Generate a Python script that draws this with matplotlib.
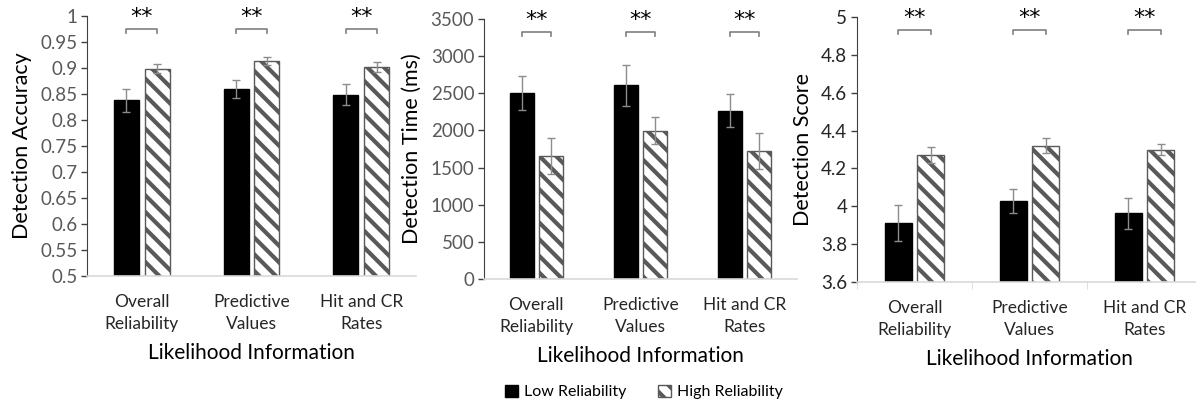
import matplotlib
matplotlib.use("Agg")
import matplotlib.pyplot as plt
from matplotlib.ticker import FuncFormatter, MultipleLocator
from matplotlib.patches import Patch
import numpy as np

plt.rcParams['font.family'] = ['Lato', 'DejaVu Sans']
plt.rcParams['hatch.linewidth'] = 3.0

categories = ["Overall\nReliability", "Predictive\nValues", "Hit and CR\nRates"]
series_names = ["Low Reliability", "High Reliability"]

acc_low = [0.838, 0.859, 0.849]
acc_low_err = [0.022, 0.017, 0.021]
acc_high = [0.899, 0.913, 0.902]
acc_high_err = [0.008, 0.008, 0.009]

time_low = [2505, 2605, 2265]
time_low_err = [225, 270, 220]
time_high = [1655, 1995, 1725]
time_high_err = [245, 180, 240]

score_low = [3.912, 4.028, 3.962]
score_low_err = [0.097, 0.061, 0.084]
score_high = [4.273, 4.321, 4.300]
score_high_err = [0.042, 0.039, 0.029]

sig_labels = ["**", "**", "**"]

panels = [
    dict(low=acc_low, lerr=acc_low_err, high=acc_high, herr=acc_high_err,
         ylabel="Detection Accuracy", ylim=(0.5, 1.0), step=0.05,
         pos=(87/1196, 1-276/404, (416-87)/1196, (276-16)/404), tickcolor='#595959'),
    dict(low=time_low, lerr=time_low_err, high=time_high, herr=time_high_err,
         ylabel="Detection Time (ms)", ylim=(0, 3500), step=500,
         pos=(484/1196, 1-279/404, (797-484)/1196, (279-19)/404), tickcolor='#595959'),
    dict(low=score_low, lerr=score_low_err, high=score_high, herr=score_high_err,
         ylabel="Detection Score", ylim=(3.6, 5.0), step=0.2,
         pos=(857/1196, 1-282/404, (1202-857)/1196, (282-17)/404), tickcolor='#262626'),
]

fig = plt.figure(figsize=(11.96, 4.04), dpi=100)
x = np.arange(len(categories))
w = 0.23
off = 0.14
hatch_col = '#595959'

for i, p in enumerate(panels):
    ax = fig.add_axes(p['pos'])
    ax.bar(x - off, p['low'], w, color='black', edgecolor='black', zorder=2)
    ax.bar(x + off, p['high'], w, color='white', edgecolor=hatch_col, hatch='\\\\',
           linewidth=1.0, zorder=2)
    ax.errorbar(x - off, p['low'], yerr=p['lerr'], fmt='none', ecolor='#8c8c8c',
                elinewidth=1.0, capsize=3, capthick=1.0, zorder=3)
    ax.errorbar(x + off, p['high'], yerr=p['herr'], fmt='none', ecolor='#8c8c8c',
                elinewidth=1.0, capsize=3, capthick=1.0, zorder=3)
    ax.set_ylim(*p['ylim'])
    ax.set_xlim(-0.5, 2.5)
    ax.yaxis.set_major_locator(MultipleLocator(p['step']))
    ax.yaxis.set_major_formatter(FuncFormatter(lambda v, pos: ('%.2f' % v).rstrip('0').rstrip('.')))
    ax.tick_params(axis='y', labelsize=13.5, labelcolor=p['tickcolor'], length=4, width=1,
                   direction='out', pad=3, color='#404040')
    ax.set_ylabel(p['ylabel'], fontsize=15.5, color='black', labelpad=6)
    ax.set_xticks(x)
    ax.set_xticklabels(categories, fontsize=12.5, color='#262626', linespacing=1.45)
    if i == 2:
        ax.set_xticks([-0.5, 0.5, 1.5], minor=True)
        ax.tick_params(axis='x', which='minor', length=5, color='#d9d9d9')
    ax.tick_params(axis='x', which='major', length=0, pad=13)
    ax.set_xlabel("Likelihood Information", fontsize=15, color='black', labelpad=8)
    for s in ['top', 'right']:
        ax.spines[s].set_visible(False)
    ax.spines['left'].set_color('#404040')
    ax.spines['bottom'].set_color('#d9d9d9')
    ax.spines['bottom'].set_linewidth(1.2)

    tr = ax.get_xaxis_transform()
    for j, lab in enumerate(sig_labels):
        xl, xr = x[j] - off, x[j] + off
        ax.plot([xl, xl, xr, xr], [0.935, 0.95, 0.95, 0.935], transform=tr,
                color='#7f7f7f', lw=1.2, clip_on=False)
        ax.text(x[j], 0.995, lab, transform=tr, ha='center', va='center',
                fontsize=16, color='black', family='DejaVu Sans')

handles = [Patch(facecolor='black', edgecolor='black', label=series_names[0]),
           Patch(facecolor='white', edgecolor=hatch_col, hatch='\\\\', label=series_names[1])]
fig.legend(handles=handles, loc='center', bbox_to_anchor=(644/1196, 1-392/404), ncol=2,
           frameon=False, fontsize=11.5, handlelength=0.8, handleheight=0.8,
           handletextpad=0.4, columnspacing=2.0)

fig.savefig("out.png", dpi=100)
